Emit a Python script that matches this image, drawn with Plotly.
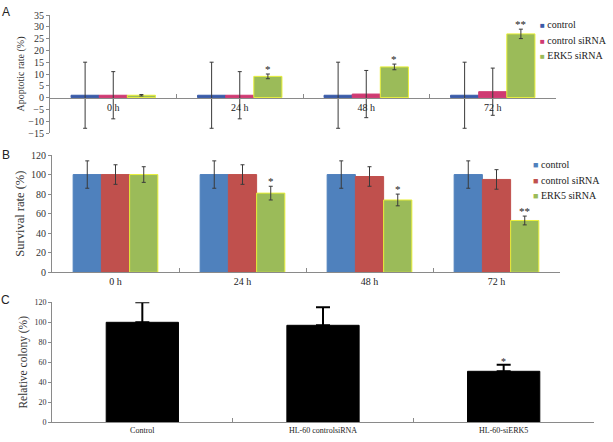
import plotly.graph_objects as go

# ---------------- data ----------------
times = ["0 h", "24 h", "48 h", "72 h"]
series_names = ["control", "control siRNA", "ERK5 siRNA"]

# Panel A: apoptotic rate (%)
apo_control = [1, 1, 1, 1]
apo_control_err = [14, 14, 14, 14]
apo_ctrl_sirna = [1, 1, 1.5, 2.5]
apo_ctrl_sirna_err = [10, 10, 10, 10]
apo_erk5 = [1, 9, 13, 27]
apo_erk5_err = [0.3, 1, 1.2, 2]
apo_sig = ["", "*", "*", "**"]

# Panel B: survival rate (%)
surv_control = [100, 100, 100, 100]
surv_control_err = [14, 14, 14, 14]
surv_ctrl_sirna = [100, 100, 98, 95]
surv_ctrl_sirna_err = [10, 10, 10, 10]
surv_erk5 = [100, 81, 74, 53]
surv_erk5_err = [8, 7, 6, 4.5]
surv_sig = ["", "*", "*", "**"]

# Panel C: relative colony (%)
groups_c = ["Control", "HL-60 controlsiRNA", "HL-60-siERK5"]
colony = [100, 97, 51]
colony_err = [20, 18, 6.5]
colony_sig = ["", "", "*"]

# ---------------- styles ----------------
W, H = 613, 442
serif = "Liberation Serif, Times New Roman, serif"
sans = "Liberation Sans, Arial, sans-serif"
axis_col = "#8a8a8a"
err_col = "#3a3a3a"

colors_a = ["#3a5ba8", "#cf3a72", "#9bbb59"]
colors_b = ["#4f81bd", "#c0504d", "#9bbb59"]
green_line = "#e8ef3a"

dom_a_x = [50 / W, 556 / W]
dom_a_y = [1 - 133 / H, 1 - 15 / H]
dom_b_x = [52 / W, 560 / W]
dom_b_y = [1 - 272.3 / H, 1 - 155 / H]
dom_c_x = [52 / W, 594 / W]
dom_c_y = [1 - 422.3 / H, 1 - 302.3 / H]
range_a = [-15, 35]

fig = go.Figure()

apo_vals = [apo_control, apo_ctrl_sirna, apo_erk5]
apo_errs = [apo_control_err, apo_ctrl_sirna_err, apo_erk5_err]
for i, name in enumerate(series_names):
    fig.add_trace(go.Bar(
        x=times, y=apo_vals[i], name=name, xaxis="x", yaxis="y", showlegend=False,
        marker=dict(color=colors_a[i],
                    line=dict(color=green_line if i == 2 else colors_a[i], width=1)),
        error_y=dict(type="data", array=apo_errs[i], color=err_col, thickness=1, width=2),
        offsetgroup=str(i),
    ))

surv_vals = [surv_control, surv_ctrl_sirna, surv_erk5]
surv_errs = [surv_control_err, surv_ctrl_sirna_err, surv_erk5_err]
for i, name in enumerate(series_names):
    fig.add_trace(go.Bar(
        x=times, y=surv_vals[i], name=name, xaxis="x2", yaxis="y2", showlegend=False,
        marker=dict(color=colors_b[i],
                    line=dict(color=green_line if i == 2 else colors_b[i], width=1)),
        error_y=dict(type="data", array=surv_errs[i], color=err_col, thickness=1, width=2),
        offsetgroup=str(i),
    ))

fig.add_trace(go.Bar(
    x=groups_c, y=colony, xaxis="x3", yaxis="y3", showlegend=False,
    marker=dict(color="black", line=dict(color="black", width=1)),
    error_y=dict(type="data", symmetric=False, array=colony_err,
                 arrayminus=[0] * len(colony_err), color="black", thickness=2, width=7),
    width=0.4,
))

# significance asterisks (positioned from the data)
ann = []
bar_px = 28
for t, v, e, s in zip(times, apo_erk5, apo_erk5_err, apo_sig):
    if s:
        ann.append(dict(x=t, y=v + e, xref="x", yref="y", text=s, showarrow=False,
                        xshift=bar_px, yanchor="bottom", yshift=-3,
                        font=dict(family=serif, size=11, color="#222")))
for t, v, e, s in zip(times, surv_erk5, surv_erk5_err, surv_sig):
    if s:
        ann.append(dict(x=t, y=v + e, xref="x2", yref="y2", text=s, showarrow=False,
                        xshift=bar_px, yanchor="bottom", yshift=-3,
                        font=dict(family=serif, size=11, color="#222")))
for g, v, e, s in zip(groups_c, colony, colony_err, colony_sig):
    if s:
        ann.append(dict(x=g, y=v + e, xref="x3", yref="y3", text=s, showarrow=False,
                        yanchor="bottom", yshift=-4,
                        font=dict(family=serif, size=10, color="#222")))

# legends (one per panel)
def legend_entries(names, colors, x_px, y_px_list, sq_size):
    out = []
    for name, col, yp in zip(names, colors, y_px_list):
        out.append(dict(
            x=x_px / W, y=1 - yp / H, xref="paper", yref="paper", showarrow=False,
            xanchor="left", yanchor="middle",
            text=f"<span style='font-size:{sq_size}px;color:{col}'>■</span> {name}",
            font=dict(family=serif, size=10, color="#222")))
    return out

ann += legend_entries(series_names, colors_a, 538, [24, 40, 55], 8)
ann += legend_entries(series_names, colors_b, 531, [164, 180, 195], 9)

# panel letters
for letter, yy in [("A", 12), ("B", 155), ("C", 300)]:
    ann.append(dict(x=6 / W, y=1 - yy / H, xref="paper", yref="paper", text=letter,
                    showarrow=False, xanchor="center", yanchor="middle",
                    font=dict(family=sans, size=12, color="#222")))

zero_pos_a = dom_a_y[0] + (0 - range_a[0]) / (range_a[1] - range_a[0]) * (dom_a_y[1] - dom_a_y[0])

common_x = dict(type="category", showline=True, linecolor=axis_col, linewidth=1,
                ticks="inside", ticklen=4, tickcolor=axis_col, tickson="boundaries",
                showgrid=False, zeroline=False,
                tickfont=dict(family=serif, size=10, color="#222"))
common_y = dict(showline=True, linecolor=axis_col, linewidth=1, ticks="outside",
                ticklen=3, tickcolor=axis_col, showgrid=False, zeroline=False,
                tickfont=dict(family=serif, size=10, color="#333"))

fig.update_layout(
    width=W, height=H, autosize=False,
    margin=dict(l=0, r=0, t=0, b=0, autoexpand=False),
    paper_bgcolor="white", plot_bgcolor="white",
    barmode="group", bargap=0.333, bargroupgap=0,
    showlegend=False,
    xaxis=dict(common_x, domain=dom_a_x, anchor="free", position=zero_pos_a),
    yaxis=dict(common_y, domain=dom_a_y, anchor="x", range=range_a, dtick=5,
               title=dict(text="Apoptotic rate (%)", standoff=1,
                          font=dict(family=serif, size=10, color="#333"))),
    xaxis2=dict(common_x, domain=dom_b_x, anchor="y2"),
    yaxis2=dict(common_y, domain=dom_b_y, anchor="x2", range=[0, 120], dtick=20,
                title=dict(text="Survival rate (%)", standoff=3,
                           font=dict(family=serif, size=12.5, color="#333"))),
    xaxis3=dict(common_x, domain=dom_c_x, anchor="y3",
                tickfont=dict(family=serif, size=8, color="#222")),
    yaxis3=dict(common_y, domain=dom_c_y, anchor="x3", range=[0, 120], dtick=20,
                tickfont=dict(family=serif, size=8, color="#333"),
                title=dict(text="Relative colony (%)", standoff=4,
                           font=dict(family=serif, size=11.5, color="#333"))),
    annotations=ann,
)

fig.write_html("out.html", config={"displayModeBar": False},
               post_script="document.body.style.margin='0px';")
